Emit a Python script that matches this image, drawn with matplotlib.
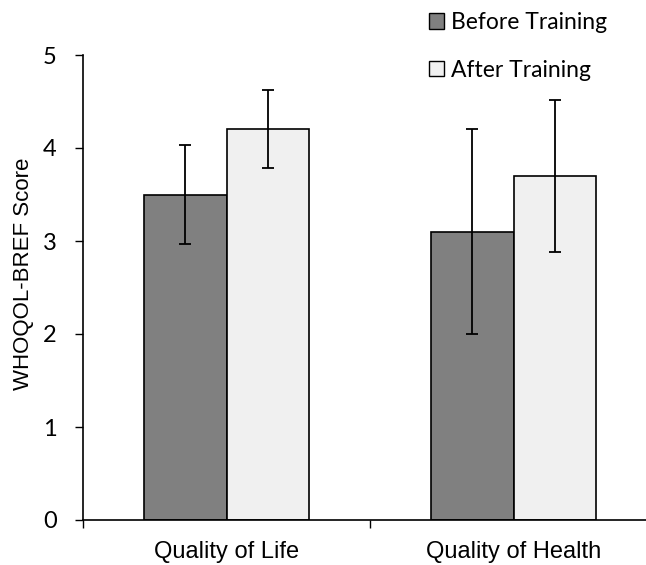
import matplotlib
matplotlib.use("Agg")
import matplotlib.pyplot as plt
from matplotlib.patches import Patch
import numpy as np

categories = ["Quality of Life", "Quality of Health"]
series_names = ["Before Training", "After Training"]
before_mean = [3.5, 3.1]
before_err = [0.53, 1.1]
after_mean = [4.2, 3.7]
after_err = [0.42, 0.82]
y_ticks = [0, 1, 2, 3, 4, 5]

colors = ["#808080", "#f0f0f0"]
label_font = ["Liberation Sans", "DejaVu Sans"]
num_font = ["Lato", "DejaVu Sans"]

fig = plt.figure(figsize=(6.46, 5.65), dpi=100)
ax = fig.add_axes([83 / 646, 45 / 565, 574 / 646, 465 / 565])

x = np.arange(len(categories))
w = 0.286
err_kw = dict(ecolor="black", elinewidth=1.3, capsize=4.5, capthick=1.3)
ax.bar(x - w / 2, before_mean, w, yerr=before_err, color=colors[0],
       edgecolor="black", linewidth=1.2, error_kw=err_kw, zorder=2)
ax.bar(x + w / 2, after_mean, w, yerr=after_err, color=colors[1],
       edgecolor="black", linewidth=1.2, error_kw=err_kw, zorder=2)

ax.set_xlim(-0.5, 1.5)
ax.set_ylim(0, 5)
ax.set_yticks(y_ticks)
ax.set_yticklabels([str(t) for t in y_ticks], fontfamily=num_font, fontsize=17)
ax.tick_params(axis="y", direction="out", length=6, width=1, pad=13)

# category boundaries as major ticks, names centred as minor ticks
ax.set_xticks([-0.5, 0.5])
ax.set_xticklabels([])
ax.tick_params(axis="x", which="major", direction="out", length=6, width=1)
ax.set_xticks(x, minor=True)
ax.set_xticklabels(categories, minor=True, fontfamily=label_font, fontsize=17)
ax.tick_params(axis="x", which="minor", length=0, pad=15)

for s in ["top", "right"]:
    ax.spines[s].set_visible(False)
for s in ["left", "bottom"]:
    ax.spines[s].set_linewidth(1.2)

ax.set_ylabel("WHOQOL-BREF Score", fontfamily=label_font, fontsize=16)
ax.yaxis.set_label_coords(-0.085, 0.53)

handles = [Patch(facecolor=c, edgecolor="black", linewidth=1.0) for c in colors]
fig.legend(handles, series_names, loc="upper left",
           bbox_to_anchor=(420 / 646, 1 - 3 / 565), frameon=False,
           prop={"family": num_font, "size": 16.5},
           handlelength=0.65, handleheight=0.65, handletextpad=0.3,
           labelspacing=1.15, borderaxespad=0)

fig.savefig("out.png", dpi=100)
